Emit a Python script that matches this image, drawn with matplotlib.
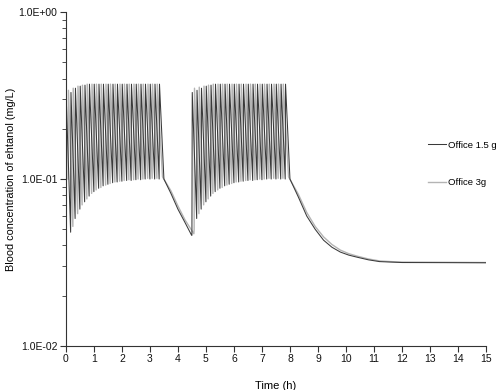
import numpy as np
import matplotlib.pyplot as plt
from matplotlib.ticker import LogLocator, FixedLocator, NullFormatter

plt.rcParams['font.family'] = ['Liberation Sans', 'DejaVu Sans']

# Office 1.5 g (dark line) -- dosing times (h), trough before each dose, peak right after
dose_t_15 = [0.0, 0.17, 0.33, 0.5, 0.67, 0.83, 1.0, 1.17, 1.33, 1.5, 1.67, 1.83, 2.0, 2.17,
             2.33, 2.5, 2.67, 2.83, 3.0, 3.17, 3.33,
             4.5, 4.67, 4.83, 5.0, 5.17, 5.33, 5.5, 5.67, 5.83, 6.0, 6.17, 6.33, 6.5, 6.67,
             6.83, 7.0, 7.17, 7.33, 7.5, 7.67, 7.83]
trough_15 = [0.09, 0.048, 0.058, 0.066, 0.073, 0.079, 0.084, 0.088, 0.091, 0.093, 0.095,
             0.096, 0.097, 0.098, 0.098, 0.099, 0.099, 0.1, 0.1, 0.1, 0.1,
             0.046, 0.058, 0.066, 0.073, 0.079, 0.084, 0.088, 0.091, 0.093, 0.095, 0.096,
             0.097, 0.098, 0.098, 0.099, 0.099, 0.1, 0.1, 0.1, 0.1, 0.1]
peak_15 = [0.31, 0.33, 0.35, 0.36, 0.365, 0.37, 0.37, 0.37, 0.37, 0.37, 0.37, 0.37, 0.37,
           0.37, 0.37, 0.37, 0.37, 0.37, 0.37, 0.37, 0.37,
           0.33, 0.34, 0.35, 0.36, 0.365, 0.37, 0.37, 0.37, 0.37, 0.37, 0.37, 0.37, 0.37,
           0.37, 0.37, 0.37, 0.37, 0.37, 0.37, 0.37, 0.37]
# washout between sessions and after the last one
gap_t_15 = [3.5, 3.75, 4.0, 4.25, 4.49]
gap_c_15 = [0.1, 0.082, 0.066, 0.055, 0.046]
tail_t_15 = [8.0, 8.3, 8.6, 8.9, 9.2, 9.5, 9.8, 10.1, 10.4, 10.8, 11.2, 11.6, 12.0, 15.0]
tail_c_15 = [0.1, 0.078, 0.06, 0.05, 0.043, 0.039, 0.0365, 0.035, 0.034, 0.0328, 0.032,
             0.0318, 0.0316, 0.0315]

# Office 3g (light grey line)
dose_t_3 = [0.08, 0.25, 0.42, 0.58, 0.75, 0.92, 1.08, 1.25, 1.42, 1.58, 1.75, 1.92, 2.08,
            2.25, 2.42, 2.58, 2.75, 2.92, 3.08, 3.25,
            4.58, 4.75, 4.92, 5.08, 5.25, 5.42, 5.58, 5.75, 5.92, 6.08, 6.25, 6.42, 6.58,
            6.75, 6.92, 7.08, 7.25, 7.42, 7.58, 7.75]
trough_3 = [0.1, 0.052, 0.062, 0.07, 0.076, 0.082, 0.086, 0.089, 0.092, 0.094, 0.096, 0.097,
            0.098, 0.099, 0.099, 0.1, 0.1, 0.101, 0.101, 0.101,
            0.05, 0.062, 0.07, 0.076, 0.082, 0.086, 0.089, 0.092, 0.094, 0.096, 0.097,
            0.098, 0.099, 0.099, 0.1, 0.1, 0.101, 0.101, 0.101, 0.101]
peak_3 = [0.34, 0.35, 0.36, 0.365, 0.37, 0.37, 0.37, 0.37, 0.37, 0.37, 0.37, 0.37, 0.37,
          0.37, 0.37, 0.37, 0.37, 0.37, 0.37, 0.37,
          0.35, 0.355, 0.36, 0.365, 0.37, 0.37, 0.37, 0.37, 0.37, 0.37, 0.37, 0.37, 0.37,
          0.37, 0.37, 0.37, 0.37, 0.37, 0.37, 0.37]
gap_t_3 = [3.45, 3.75, 4.0, 4.25, 4.57]
gap_c_3 = [0.103, 0.085, 0.069, 0.057, 0.047]
tail_t_3 = [7.95, 8.3, 8.6, 8.9, 9.2, 9.5, 9.8, 10.1, 10.4, 10.8, 11.2, 11.6, 12.0, 15.0]
tail_c_3 = [0.103, 0.081, 0.063, 0.052, 0.045, 0.0405, 0.0375, 0.0357, 0.0345, 0.0332,
            0.0323, 0.032, 0.0318, 0.0316]


def build(dose_t, trough, peak, gap_t, gap_c, tail_t, tail_c):
    tt, cc = [], []
    for i in range(len(dose_t)):
        # first dose of the second session comes after the washout gap
        if i > 0 and dose_t[i] - dose_t[i - 1] > 1:
            tt += gap_t
            cc += gap_c
        tt += [dose_t[i], dose_t[i] + 0.012]
        cc += [trough[i], peak[i]]
    tt += tail_t
    cc += tail_c
    return tt, cc


t15, c15 = build(dose_t_15, trough_15, peak_15, gap_t_15, gap_c_15, tail_t_15, tail_c_15)
t3, c3 = build(dose_t_3, trough_3, peak_3, gap_t_3, gap_c_3, tail_t_3, tail_c_3)

fig = plt.figure(figsize=(4.99, 3.90), dpi=100)
ax = fig.add_axes([0.132, 0.113, 0.842, 0.856])

ax.plot(t3, c3, color='#b4b4b4', lw=1.0, label='Office 3g')
ax.plot(t15, c15, color='#3a3a3a', lw=0.75, label='Office 1.5 g')

ax.set_yscale('log')
ax.set_ylim(0.01, 1.0)
ax.set_xlim(0, 15)
ax.set_xticks(range(0, 16))
ax.yaxis.set_major_locator(FixedLocator([0.01, 0.1, 1.0]))
ax.yaxis.set_minor_locator(LogLocator(base=10, subs=np.arange(2, 10)))
ax.yaxis.set_minor_formatter(NullFormatter())
ax.set_yticklabels(['1.0E-02', '1.0E-01', '1.0E+00'])

for s in ['top', 'right']:
    ax.spines[s].set_visible(False)
for s in ['left', 'bottom']:
    ax.spines[s].set_linewidth(0.8)
    ax.spines[s].set_color('#333333')
ax.tick_params(axis='both', which='major', direction='out', length=4, width=0.8,
               labelsize=7.5, colors='#333333', labelcolor='#111111', pad=2)
ax.tick_params(axis='y', which='minor', direction='out', length=3, width=0.6, colors='#333333')

ax.set_xlabel('Time (h)', fontsize=8)
ax.xaxis.set_label_coords(0.5, -0.105)
ax.set_ylabel('Blood concentration of ehtanol (mg/L)', fontsize=7.8)
ax.yaxis.set_label_coords(-0.118, 0.5)

# legend at right, outside the data
h, l = ax.get_legend_handles_labels()
leg = fig.legend([h[1], h[0]], [l[1], l[0]], loc='center left', bbox_to_anchor=(0.84, 0.58),
                 frameon=False, fontsize=6.8, handlelength=1.9, handletextpad=0.3,
                 labelspacing=3.0)

fig.savefig('out.png', dpi=100)
